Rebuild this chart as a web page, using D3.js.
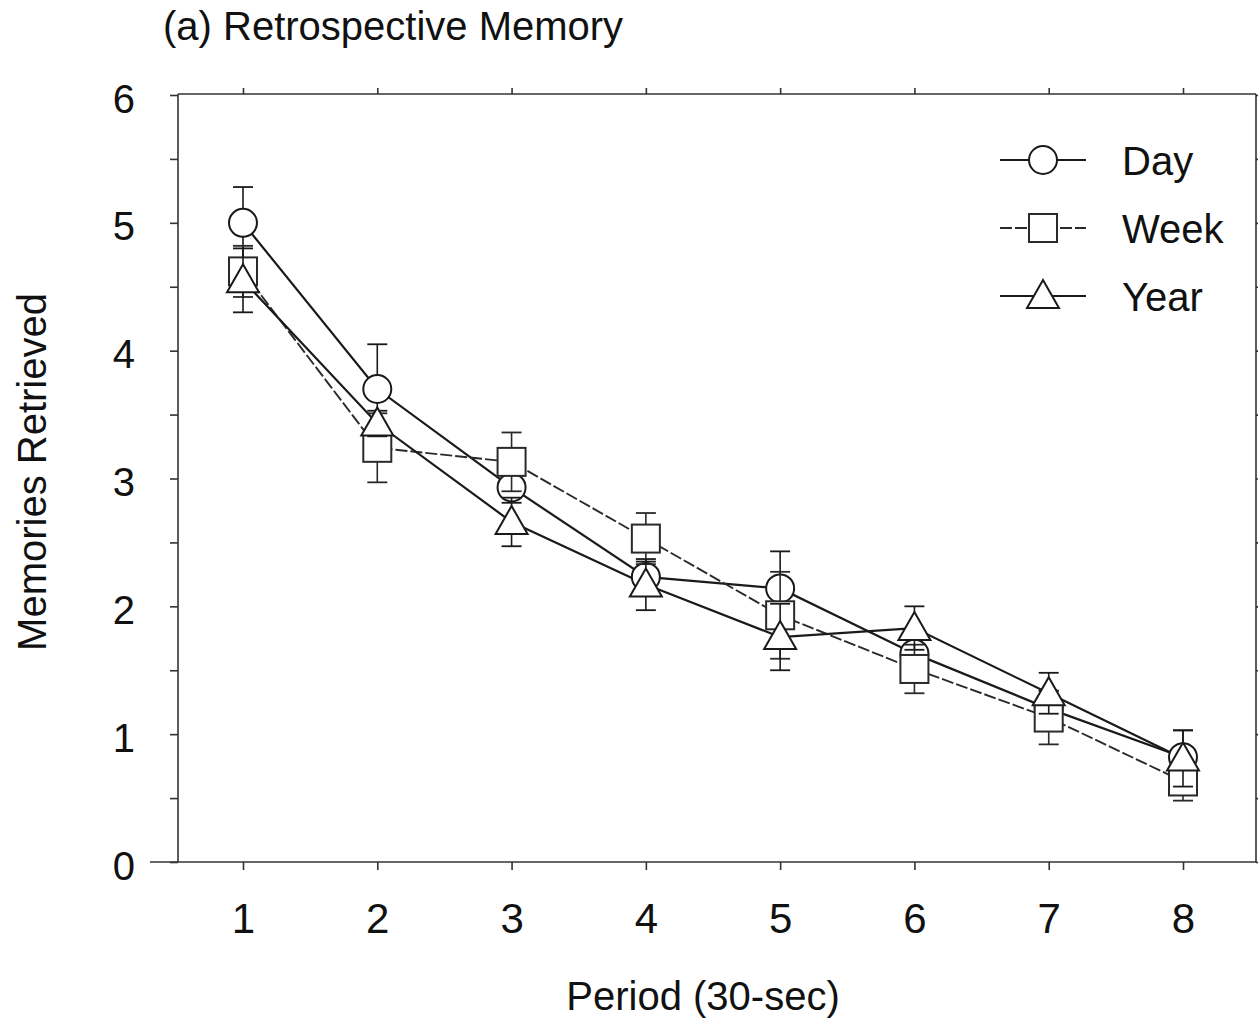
<!DOCTYPE html>
<html>
<head>
<meta charset="utf-8">
<script src="https://cdn.jsdelivr.net/npm/d3@7"></script>
<style>
  body { margin: 0; background: #fff; }
  svg text { font-family: "Liberation Sans", Arial, Helvetica, sans-serif; fill: #111; }
</style>
</head>
<body>
<svg id="chart" width="1258" height="1020"></svg>
<script>
// values
const periods = [1, 2, 3, 4, 5, 6, 7, 8]
const yTicks = [0, 1, 2, 3, 4, 5, 6]
const yMinor = [0, 0.5, 1, 1.5, 2, 2.5, 3, 3.5, 4, 4.5, 5, 5.5, 6]

const dayVals  = [5.0, 3.70, 2.93, 2.23, 2.14, 1.63, 1.20, 0.82]
const dayErr   = [0.28, 0.35, 0.12, 0.12, 0.29, 0.12, 0.14, 0.21]
const weekVals = [4.62, 3.24, 3.13, 2.53, 1.93, 1.51, 1.13, 0.63]
const weekErr  = [0.20, 0.27, 0.23, 0.20, 0.34, 0.19, 0.21, 0.15]
const yearVals = [4.55, 3.43, 2.66, 2.17, 1.76, 1.83, 1.32, 0.81]
const yearErr  = [0.25, 0.10, 0.19, 0.20, 0.26, 0.17, 0.16, 0.22]

const seriesNames = ['Day', 'Week', 'Year']
const seriesShapes = ['circle', 'square', 'triangle']

const svg = d3.select('#chart')
const plot = { left: 178, right: 1256, top: 94, bottom: 862 }

let x = d3.scaleLinear().domain([1, 8]).range([243, 1183])
let y = d3.scaleLinear().domain([0, 6]).range([plot.bottom, 95])

const axisCol = '#333'

// ---- frame / axes ----
let gB = svg.append('g').attr('transform', `translate(0,${plot.bottom})`)
    .call(d3.axisBottom(x).tickValues(periods).tickSize(8).tickSizeOuter(0).tickFormat(d3.format('d')))
gB.select('.domain').remove()
gB.append('line').attr('x1', 150).attr('x2', plot.right).attr('stroke', axisCol).attr('stroke-width', 1.6)
gB.selectAll('.tick text')
    .attr('y', 71).attr('dy', null)
    .style('font-size', '42px').style('fill', '#111')

let gT = svg.append('g').attr('transform', `translate(0,${plot.top})`)
    .call(d3.axisTop(x).tickValues(periods).tickSize(6).tickSizeOuter(0).tickFormat(''))
gT.select('.domain').remove()
gT.append('line').attr('x1', plot.left).attr('x2', plot.right).attr('stroke', axisCol).attr('stroke-width', 1.6)

let gL = svg.append('g').attr('transform', `translate(${plot.left},0)`)
    .call(d3.axisLeft(y).tickValues(yMinor).tickSize(8).tickSizeOuter(0)
        .tickFormat(d => yTicks.includes(d) ? d : ''))
gL.select('.domain').remove()
gL.append('line').attr('y1', plot.top).attr('y2', plot.bottom).attr('stroke', axisCol).attr('stroke-width', 1.6)
gL.selectAll('.tick text')
    .attr('x', -43).attr('dy', null).attr('y', 17)
    .style('font-size', '40px').style('fill', '#111')

let gR = svg.append('g').attr('transform', `translate(${plot.right},0)`)
    .call(d3.axisRight(y).tickValues(yMinor).tickSize(5).tickSizeOuter(0).tickFormat(''))
gR.select('.domain').remove()
gR.append('line').attr('y1', plot.top).attr('y2', plot.bottom).attr('stroke', axisCol).attr('stroke-width', 1.6)

svg.selectAll('.tick line').attr('stroke', axisCol).attr('stroke-width', 1.6)

// ---- titles ----
svg.append('text').attr('x', 163).attr('y', 40)
    .style('font-size', '40px').text('(a) Retrospective Memory')
svg.append('text').attr('x', 703).attr('y', 1010)
    .attr('text-anchor', 'middle').style('font-size', '40px').text('Period (30-sec)')
svg.append('text').attr('transform', 'translate(46,472) rotate(-90)')
    .attr('text-anchor', 'middle').style('font-size', '40px').text('Memories Retrieved')

// ---- series ----
let series = [
    { name: seriesNames[0], shape: seriesShapes[0], vals: dayVals, err: dayErr, dash: null, w: 2.2, col: '#1a1a1a' },
    { name: seriesNames[1], shape: seriesShapes[1], vals: weekVals, err: weekErr, dash: '12,3', w: 1.9, col: '#2a2a2a' },
    { name: seriesNames[2], shape: seriesShapes[2], vals: yearVals, err: yearErr, dash: null, w: 2.2, col: '#1a1a1a' }
]

function drawMarker(g, shape, cx, cy, col) {
    if (shape === 'circle') {
        g.append('circle').attr('cx', cx).attr('cy', cy).attr('r', 14)
            .attr('fill', '#fff').attr('stroke', col).attr('stroke-width', 2)
    } else if (shape === 'square') {
        g.append('rect').attr('x', cx - 14).attr('y', cy - 14).attr('width', 28).attr('height', 28)
            .attr('fill', '#fff').attr('stroke', col).attr('stroke-width', 2)
    } else {
        let s = 16
        g.append('path')
            .attr('d', `M${cx},${cy - s} L${cx + s},${cy + s * 0.75} L${cx - s},${cy + s * 0.75} Z`)
            .attr('fill', '#fff').attr('stroke', col).attr('stroke-width', 2)
    }
}

let line = d3.line().x((d, i) => x(periods[i])).y(d => y(d))

series.forEach(s => {
    svg.append('path').datum(s.vals)
        .attr('d', line).attr('fill', 'none')
        .attr('stroke', s.col).attr('stroke-width', s.w)
        .attr('stroke-dasharray', s.dash)
})

series.forEach(s => {
    let g = svg.append('g')
    s.vals.forEach((v, i) => {
        let cx = x(periods[i])
        g.append('line').attr('x1', cx).attr('x2', cx)
            .attr('y1', y(v - s.err[i])).attr('y2', y(v + s.err[i]))
            .attr('stroke', s.col).attr('stroke-width', 1.6)
        ;[v - s.err[i], v + s.err[i]].forEach(e => {
            g.append('line').attr('x1', cx - 10).attr('x2', cx + 10)
                .attr('y1', y(e)).attr('y2', y(e))
                .attr('stroke', s.col).attr('stroke-width', 1.8)
        })
    })
    s.vals.forEach((v, i) => drawMarker(g, s.shape, x(periods[i]), y(v), s.col))
})

// ---- legend ----
let leg = svg.append('g')
series.forEach((s, i) => {
    let ly = 160 + i * 68
    leg.append('line').attr('x1', 1000).attr('x2', 1086).attr('y1', ly).attr('y2', ly)
        .attr('stroke', s.col).attr('stroke-width', s.w).attr('stroke-dasharray', s.dash)
    drawMarker(leg, s.shape, 1043, ly, s.col)
    leg.append('text').attr('x', 1122).attr('y', ly + 15)
        .style('font-size', '40px').text(s.name)
})
</script>
</body>
</html>
